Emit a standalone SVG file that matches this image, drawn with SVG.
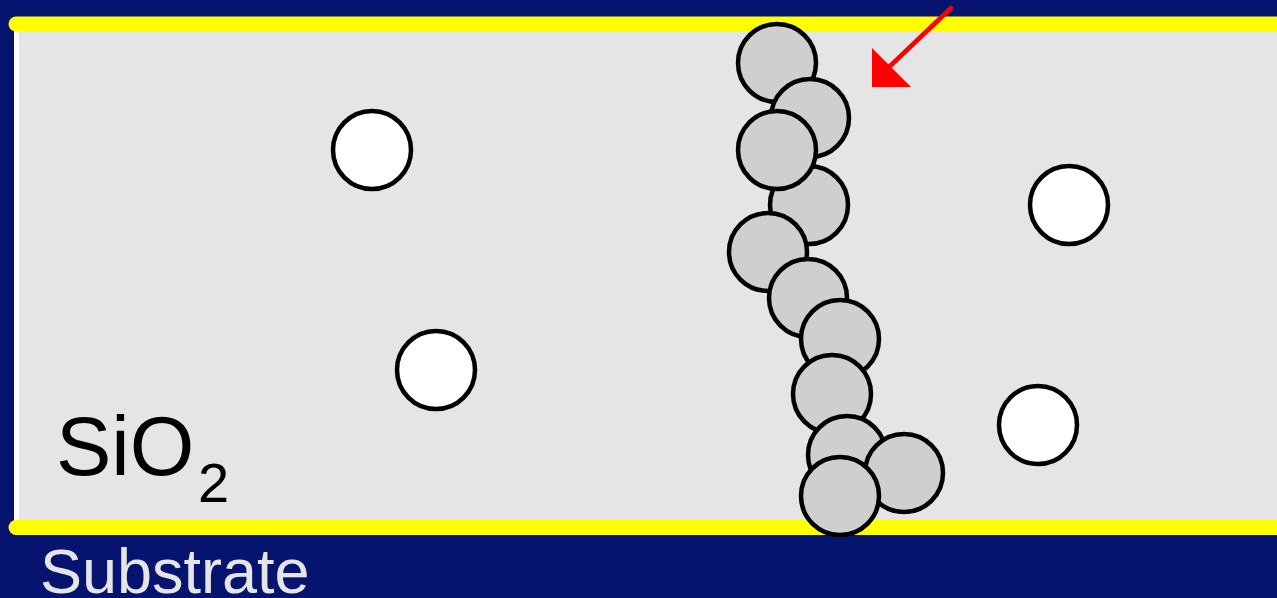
<svg xmlns="http://www.w3.org/2000/svg" width="1277" height="598" viewBox="0 0 1277 598">
<style>
.w{fill:#ffffff;stroke:#000;stroke-width:4.5}
.g{fill:#cfcfcf;stroke:#000;stroke-width:4.5}
.y{stroke:#ffff00;stroke-width:15;stroke-linecap:round;fill:none}
text{font-family:"Liberation Sans",Arial,sans-serif}
</style>
<rect x="0" y="0" width="1277" height="598" fill="#061470"/>
<rect x="14" y="24" width="1270" height="504" fill="#ffffff"/>
<rect x="19" y="24" width="1270" height="504" fill="#e5e5e5"/>
<line class="y" x1="16" y1="24" x2="1290" y2="24"/>
<line class="y" x1="16" y1="527.5" x2="1290" y2="527.5"/>
<g id="pores">
<circle class="w" cx="372" cy="150" r="39"/>
<circle class="w" cx="436" cy="370" r="39"/>
<circle class="w" cx="1069" cy="205" r="39"/>
<circle class="w" cx="1038" cy="425" r="39"/>
</g>
<g id="chain">
<circle class="g" cx="777" cy="63" r="39"/>
<circle class="g" cx="810" cy="118" r="39"/>
<circle class="g" cx="809" cy="205" r="39"/>
<circle class="g" cx="777" cy="150" r="39"/>
<circle class="g" cx="768" cy="252" r="39"/>
<circle class="g" cx="808" cy="298" r="39"/>
<circle class="g" cx="840" cy="339" r="39"/>
<circle class="g" cx="832" cy="394" r="39"/>
<circle class="g" cx="847" cy="455" r="39"/>
<circle class="g" cx="904" cy="473" r="39"/>
<circle class="g" cx="840" cy="496" r="39"/>
</g>
<g id="arrow">
<line x1="951" y1="8" x2="888" y2="68" stroke="#ff0000" stroke-width="4.5" stroke-linecap="round"/>
<polygon points="872,48 872,87 911,87" fill="#ff0000"/>
</g>
<g id="labels">
<text x="56" y="475" font-size="83" fill="#000">SiO</text>
<text x="198" y="502" font-size="56" fill="#000">2</text>
<text x="40" y="593" font-size="63" fill="#e5e5e5">Substrate</text>
</g>
</svg>
